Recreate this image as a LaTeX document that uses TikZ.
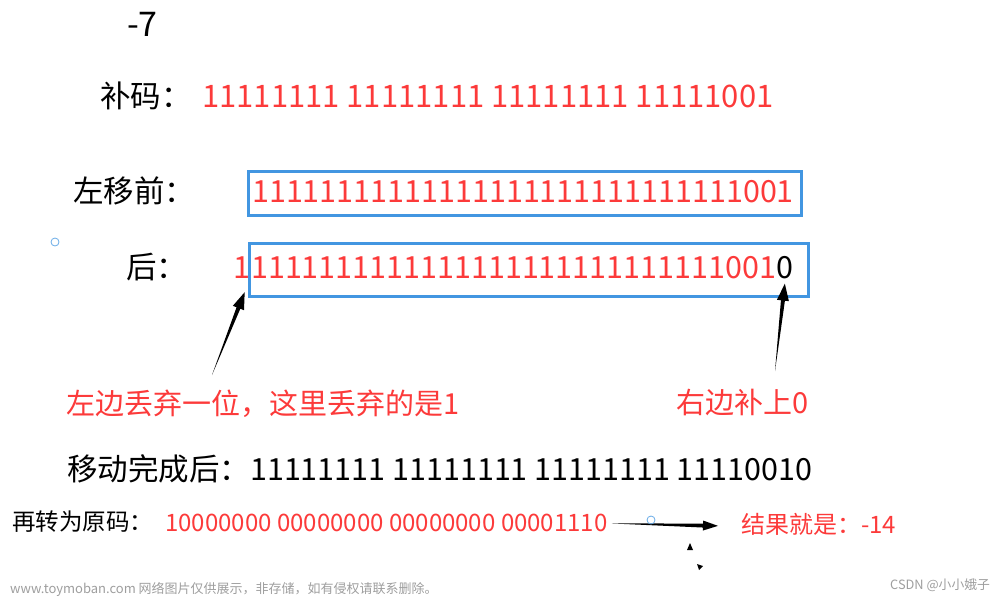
\documentclass[tikz,border=0pt]{standalone}
\usepackage{fontspec}
\setmainfont{Noto Sans CJK SC}
\usepackage{xcolor}
\usepackage{tikz}
\usetikzlibrary{calc}
\usetikzlibrary{positioning}
\definecolor{myred}{RGB}{252,58,58}
\definecolor{myblue}{RGB}{66,150,225}
\newcommand{\fsz}[1]{\fontsize{#1}{#1}\selectfont}
\newcommand{\taperarrow}[5]{
    \coordinate (hb) at ($(#2)!#5!(#1)$);
    \fill (#1) -- ($(hb)!#3!90:(#2)$) -- ($(hb)!#4!90:(#2)$) -- (#2)
        -- ($(hb)!#4!-90:(#2)$) -- ($(hb)!#3!-90:(#2)$) -- cycle;
}
\tikzstyle{every node}=[inner sep=0pt, anchor=base west, font=\fsz{30.5}]
\tikzstyle{bits}=[text=myred]
\tikzstyle{bitbox}=[draw=myblue, line width=2.5pt, anchor=north west]
\tikzstyle{note}=[text=myred, font=\fsz{29}]
\tikzstyle{small}=[font=\fsz{24}]
\tikzstyle{handle}=[draw=myblue!80, line width=0.8pt]
\tikzstyle{wm}=[text=black!38, font=\fsz{13}]

\begin{document}
\begin{tikzpicture}[x=1pt, y=-1pt]
        \useasboundingbox (0, 0) rectangle (1000, 597);

        \node [font=\fsz{34}] (num) at (127, 36) {-7};

        \node (bmlbl) at (100, 107) {补码：};
        \node [bits, font=\fsz{31}] (bm) at (202, 107) {11111111 11111111 11111111 11111001};

        \node (prelbl) at (73, 202) {左移前：};
        \node [bitbox, minimum width=553pt, minimum height=44pt] (box1) at (247, 170) {};
        \node [bits] (pre) at (252, 202) {11111111111111111111111111111001};

        \node (postlbl) at (126, 278) {后：};
        \node [bitbox, minimum width=559pt, minimum height=53pt] (box2) at (248, 242) {};
        \node [bits] (one) at (233, 278) {1};
        \node [bits] (post) at (251, 278) {1111111111111111111111111111001};
        \node (zero) at (post.base east) {0};

        \node [note] (lnote) at (66, 414) {左边丢弃一位，这里丢弃的是1};
        \node [note] (rnote) at (676, 413) {右边补上0};

        \coordinate (t1) at (212, 375);
        \coordinate (h1) at ([xshift=3pt, yshift=-14pt]one.south);
        \coordinate (t2) at (775, 371);
        \coordinate (h2) at ([xshift=0pt, yshift=-5pt]zero.south);
        \taperarrow{t1}{h1}{2pt}{6pt}{17pt}
        \taperarrow{t2}{h2}{2pt}{6pt}{17pt}

        \node (done) at (67, 480) {移动完成后：11111111 11111111 11111111 11110010};

        \node [font=\fsz{23.5}] (yuanlbl) at (12, 530) {再转为原码：};
        \node [bits, small] (yuan) at (165, 531) {10000000 00000000 00000000 00001110};
        \node [note, small] (res) at (741, 533) {结果就是：-14};
        \coordinate (t3) at ([xshift=4pt, yshift=-1pt]yuan.east);
        \coordinate (h3) at ([xshift=-23pt, yshift=-2pt]res.west);
        \taperarrow{t3}{h3}{2pt}{5pt}{15pt}

        \draw [handle] (55, 242) circle (4);
        \draw [handle] (651, 520) circle (4);
        \fill (687, 550) -- (693, 550) -- (690, 543) -- cycle;
        \fill (697, 564) -- (703, 566) -- (699, 570) -- cycle;

        \node [wm] (site) at (10, 593) {www.toymoban.com 网络图片仅供展示，非存储，如有侵权请联系删除。};
        \node [wm, font=\fsz{12.8}] (csdn) at (890, 589) {CSDN @小小娥子};
    \end{tikzpicture}
\end{document}
